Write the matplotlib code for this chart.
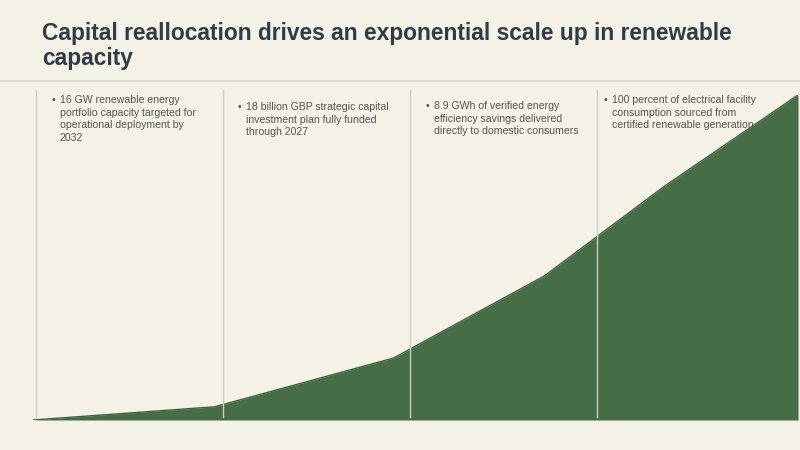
import matplotlib
matplotlib.use("Agg")
import matplotlib.pyplot as plt

# data (capacity build-out, GW)
years = [2024, 2025.9, 2027.77, 2029.35, 2030.6, 2032]
capacity_gw = [0, 0.65, 3.05, 7.1, 11.5, 16]

title_lines = ["Capital reallocation drives an exponential scale up in renewable",
               "capacity"]
notes = [
    ["16 GW renewable energy", "portfolio capacity targeted for",
     "operational deployment by", "2032"],
    ["18 billion GBP strategic capital", "investment plan fully funded",
     "through 2027"],
    ["8.9 GWh of verified energy", "efficiency savings delivered",
     "directly to domestic consumers"],
    ["100 percent of electrical facility", "consumption sourced from",
     "certified renewable generation"],
]

BG = "#F4F1E6"
GREEN = "#466E46"
TITLE_C = "#2F3D45"
TEXT_C = "#555555"
plt.rcParams['font.family'] = ['Liberation Sans', 'DejaVu Sans']

W, H = 800, 450
fig = plt.figure(figsize=(8, 4.5), dpi=100, facecolor=BG)

def px_axes(x0, y0, x1, y1, z):
    # axes placed by pixel box (top-left origin)
    return fig.add_axes([x0 / W, 1 - y1 / H, (x1 - x0) / W, (y1 - y0) / H], zorder=z)

# background layer: title, separator, notes (under the fill)
bg = px_axes(0, 0, W, H, 0)
bg.set_xlim(0, W)
bg.set_ylim(H, 0)
bg.axis("off")
bg.text(42, 40, title_lines[0], fontsize=16.4, fontweight="bold", color=TITLE_C, va="baseline")
bg.text(42, 65, title_lines[1], fontsize=16.4, fontweight="bold", color=TITLE_C, va="baseline")
bg.plot([0, W], [81, 81], color="#DCD9CE", lw=1.6)

col_x = [52, 238, 426, 604]
col_y = [95, 102, 101, 95]
for cx, cy, lines in zip(col_x, col_y, notes):
    bg.text(cx, cy, "\u2022", fontsize=7.5, color=TEXT_C, va="top")
    bg.text(cx + 7.5, cy, "\n".join(lines), fontsize=7.6, color=TEXT_C,
            va="top", linespacing=1.32)

# chart layer
ax = px_axes(33, 95, 798, 420, 1)
ax.patch.set_alpha(0)
ax.fill_between(years, capacity_gw, 0, color=GREEN, lw=0)
ax.plot(years, capacity_gw, color="#3C613C", lw=1)
ax.set_xlim(years[0], years[-1])
ax.set_ylim(0, max(capacity_gw))
ax.axis("off")

# column dividers drawn over the fill
top = px_axes(0, 0, W, H, 2)
top.patch.set_alpha(0)
top.set_xlim(0, W)
top.set_ylim(H, 0)
top.axis("off")
for vx in [36, 223, 410, 597]:
    top.plot([vx, vx], [90, 417], color="#CFCCC2", lw=1)

fig.savefig("out.png", dpi=100, facecolor=BG)
